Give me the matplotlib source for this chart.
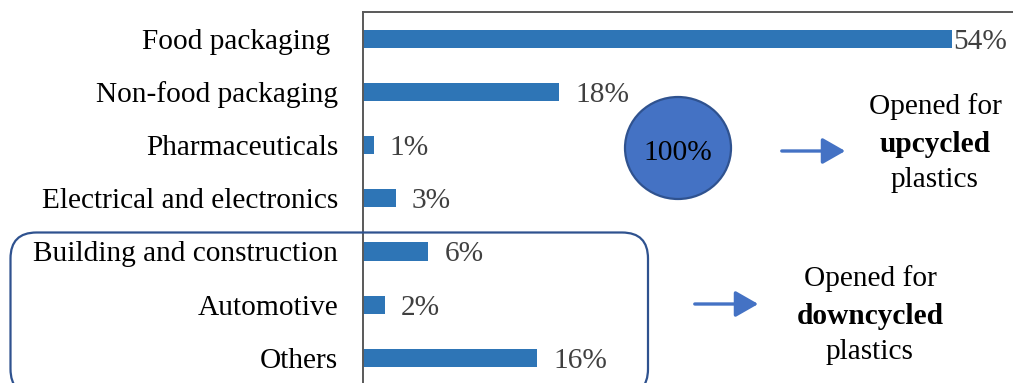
import matplotlib
matplotlib.use("Agg")
import matplotlib.pyplot as plt
from matplotlib.patches import FancyBboxPatch, Ellipse, FancyArrowPatch
from matplotlib.transforms import IdentityTransform

categories = ["Food packaging ", "Non-food packaging", "Pharmaceuticals",
              "Electrical and electronics", "Building and construction",
              "Automotive", "Others"]
shares = [54, 18, 1, 3, 6, 2, 16]
value_labels = ["54%", "18%", "1%", "3%", "6%", "2%", "16%"]
total_label = "100%"

W, H = 1013, 383
DPI = 100
plt.rcParams["font.family"] = ["Liberation Serif", "DejaVu Serif"]
FS = 21.2

fig = plt.figure(figsize=(W / DPI, H / DPI), dpi=DPI)
fig.patch.set_facecolor("white")


def fx(px):
    return px / W


def fy(py):
    return 1 - py / H


ax = fig.add_axes([fx(363), fy(384.5), fx(1013) - fx(363), fy(12) - fy(384.5)])
ypos = list(range(len(categories)))
ax.barh(ypos, shares, height=0.34, color="#2E75B6")
ax.set_ylim(len(categories) - 0.5, -0.5)
ax.set_xlim(0, 59.6)
ax.set_yticks(ypos)
ax.set_yticklabels(categories, fontsize=FS, color="black")
ax.tick_params(axis="y", length=0, pad=18)
ax.set_xticks([])
for side in ["right", "bottom"]:
    ax.spines[side].set_visible(False)
for side in ["left", "top"]:
    ax.spines[side].set_color("#595959")
    ax.spines[side].set_linewidth(1.4)

for y, v, lab in zip(ypos, shares, value_labels):
    off = 0.8 if v > 50 else 11.5
    ax.annotate(lab, xy=(v, y), xytext=(off, 0), textcoords="offset points",
                ha="left", va="center_baseline", fontsize=FS, color="#404040")

# rounded frame around the downcycled group
ident = IdentityTransform()
box = FancyBboxPatch((10.5, H - 395), 648 - 10.5, 395 - 232.5,
                     boxstyle="round,pad=0,rounding_size=26",
                     transform=ident, fill=False, edgecolor="#2F528F",
                     linewidth=1.6, zorder=5)
fig.patches.append(box)

# circle with total share
circ = Ellipse((678, H - 148), 106, 102, transform=ident,
               facecolor="#4472C4", edgecolor="#2F528F", linewidth=1.6, zorder=5)
fig.patches.append(circ)
fig.text(fx(678), fy(150), total_label, ha="center", va="center_baseline",
         fontsize=FS, color="black", zorder=6)

# arrows
for x0, x1, y in [(779, 848, 151), (692, 761, 304)]:
    arr = FancyArrowPatch((x0, H - y), (x1, H - y), transform=ident,
                          arrowstyle="-|>,head_length=7,head_width=4",
                          mutation_scale=2.0, color="#4472C4", linewidth=2.4)
    fig.patches.append(arr)

# side notes
fig.text(fx(935), fy(107), "Opened for", ha="center", va="center", fontsize=FS)
fig.text(fx(935), fy(144), "upcycled", ha="center", va="center", fontsize=FS,
         fontweight="bold")
fig.text(fx(935), fy(180), "plastics", ha="center", va="center", fontsize=FS)

fig.text(fx(870), fy(279), "Opened for", ha="center", va="center", fontsize=FS)
fig.text(fx(870), fy(316), "downcycled", ha="center", va="center", fontsize=FS,
         fontweight="bold")
fig.text(fx(870), fy(352), "plastics", ha="center", va="center", fontsize=FS)

fig.savefig("out.png", dpi=DPI, facecolor="white")
